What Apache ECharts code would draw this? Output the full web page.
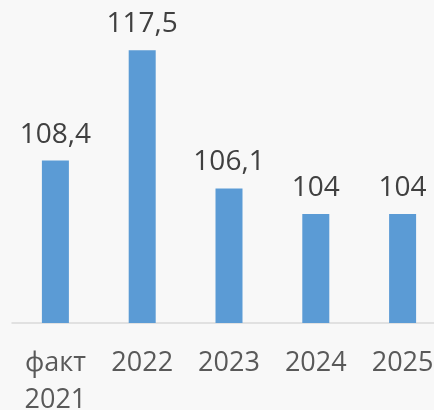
<!DOCTYPE html>
<html>
<head>
<meta charset="utf-8">
<script src="https://cdn.jsdelivr.net/npm/echarts@6/dist/echarts.min.js"></script>
<style>
  html, body { margin: 0; padding: 0; background: #f8f8f8; overflow: hidden; }
  #chart { width: 434px; height: 410px; }
</style>
</head>
<body>
<div id="chart"></div>
<script>
// Growth index by year
const categories = ['факт\n2021', '2022', '2023', '2024', '2025'];
const values = [108.4, 117.5, 106.1, 104, 104];

const chart = echarts.init(document.getElementById('chart'), null, { renderer: 'canvas' });
const fontFamily = '"Open Sans", "Noto Sans", sans-serif';

chart.setOption({
  backgroundColor: '#f8f8f8',
  animation: false,
  // the last category slot runs past the right edge
  grid: { left: 12, right: -12, top: 20, bottom: 87, outerBoundsMode: 'none', containLabel: false },
  xAxis: {
    type: 'category',
    data: categories,
    axisLine: { show: true, lineStyle: { color: '#d9d9d9', width: 1.5 } },
    axisTick: { show: false },
    axisLabel: {
      color: '#595959',
      fontFamily: fontFamily,
      fontSize: 27,
      lineHeight: 37,
      margin: 22
    }
  },
  yAxis: {
    type: 'value',
    min: 95,
    max: 120,
    show: false,
    splitLine: { show: false }
  },
  series: [{
    type: 'bar',
    data: values,
    barWidth: 27,
    itemStyle: { color: '#5b9bd5' },
    label: {
      show: true,
      position: 'top',
      distance: 12,
      color: '#404040',
      fontFamily: fontFamily,
      fontSize: 28,
      formatter: p => String(p.value).replace('.', ',')
    }
  }]
});
</script>
</body>
</html>
